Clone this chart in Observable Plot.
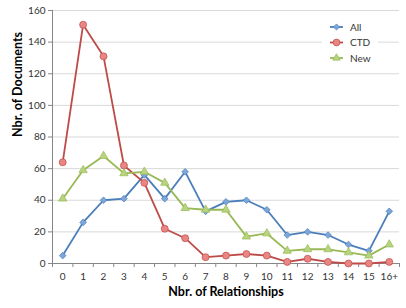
<!DOCTYPE html>
<html>
<head>
<meta charset="utf-8">
<script src="https://cdn.jsdelivr.net/npm/d3@7"></script>
<script src="https://cdn.jsdelivr.net/npm/@observablehq/plot@0.6"></script>
<style>
  html, body { margin: 0; padding: 0; background: #fff; }
  #wrap { position: relative; width: 406px; height: 308px; font-family: Lato, "Open Sans", sans-serif; }
  #legend { position: absolute; left: 322px; top: 18px; width: 56px; height: 48px; background: #fff; }
  #legend svg { display: block; }
</style>
</head>
<body>
<div id="wrap"><div id="legend"></div></div>
<script>
const categories = ["0","1","2","3","4","5","6","7","8","9","10","11","12","13","14","15","16+"];
const allValues = [5, 26, 40, 41, 56, 41, 58, 33, 39, 40, 34, 18, 20, 18, 12, 8, 33];
const ctdValues = [64, 151, 131, 62, 51, 22, 16, 4, 5, 6, 5, 1, 3, 1, 0, 0, 1];
const newValues = [41, 59, 68, 57, 58, 51, 35, 34, 34, 17, 19, 8, 9, 9, 7, 5, 12];
const seriesNames = ["All", "CTD", "New"];
const yTicks = [0, 20, 40, 60, 80, 100, 120, 140, 160];

const lineColors = {All: "#4a7ebb", CTD: "#be4b48", New: "#98b954"};
const fillColors = {All: "#7ea6d8", CTD: "#e98683", New: "#b8d480"};
const symbols = {All: "diamond2", CTD: "circle", New: "triangle"};
const sizes = {All: 3, CTD: 3.5, New: 3.1};

const series = [allValues, ctdValues, newValues];
const rows = [];
seriesNames.forEach((s, k) => series[k].forEach((v, i) => rows.push({series: s, i, v})));

const idx = categories.map((_, i) => i);
const bounds = d3.range(categories.length + 1).map(i => i - 0.5);

const marks = [
  Plot.gridY(yTicks.slice(1), {stroke: "#d9d9d9", strokeOpacity: 1, strokeWidth: 1}),
  Plot.ruleY([0], {stroke: "#868686"}),
  Plot.ruleX([-0.5], {stroke: "#868686"}),
  Plot.axisY({ticks: yTicks, tickSize: 4, tickPadding: 3, stroke: "#868686", fill: "#333", fontSize: 10, label: null}),
  Plot.axisX({ticks: bounds, tickSize: 4, stroke: "#868686", tickFormat: () => "", label: null}),
  Plot.axisX({ticks: idx, tickSize: 0, tickPadding: 9, fill: "#333", fontSize: 10, tickFormat: i => categories[i], label: null}),
];
for (const s of seriesNames) {
  const d = rows.filter(r => r.series === s);
  marks.push(Plot.line(d, {x: "i", y: "v", stroke: lineColors[s], strokeWidth: 1.8}));
}
for (const s of seriesNames) {
  const d = rows.filter(r => r.series === s);
  marks.push(Plot.dot(d, {x: "i", y: "v", symbol: () => symbols[s], r: sizes[s], fill: fillColors[s], stroke: lineColors[s], strokeWidth: 0.7}));
}
marks.push(Plot.text(["Nbr. of Relationships"], {frameAnchor: "bottom", dy: 32, fontWeight: "bold", fontSize: 12.5, fill: "#000"}));
marks.push(Plot.text(["Nbr. of Documents"], {frameAnchor: "left", dx: -35, rotate: -90, fontWeight: "bold", fontSize: 12.5, fill: "#000"}));

const chart = Plot.plot({
  width: 406,
  height: 308,
  marginLeft: 52,
  marginRight: 7,
  marginTop: 10,
  marginBottom: 45,
  style: {fontFamily: "Lato, 'Open Sans', sans-serif", background: "#fff", overflow: "visible"},
  x: {type: "linear", domain: [-0.5, categories.length - 0.5], axis: null},
  y: {domain: [0, 160], axis: null},
  symbol: {type: "identity"},
  marks
});
document.getElementById("wrap").prepend(chart);

// legend
const legend = d3.select("#legend").append("svg").attr("width", 56).attr("height", 48);
const symGen = {All: d3.symbolDiamond2, CTD: d3.symbolCircle, New: d3.symbolTriangle};
seriesNames.forEach((s, k) => {
  const y = 9 + k * 15.5;
  const g = legend.append("g").attr("transform", `translate(0,${y})`);
  g.append("line").attr("x1", 8).attr("x2", 21).attr("y1", 0).attr("y2", 0).attr("stroke", lineColors[s]).attr("stroke-width", 1.8);
  g.append("path").attr("transform", "translate(14.5,0)").attr("d", d3.symbol(symGen[s], s === "CTD" ? 36 : 24)()).attr("fill", fillColors[s]).attr("stroke", lineColors[s]).attr("stroke-width", 0.7);
  g.append("text").attr("x", 28).attr("y", 0).attr("dy", "0.35em").attr("font-size", 10).attr("fill", "#333").attr("font-family", "Lato, 'Open Sans', sans-serif").text(s);
});
</script>
</body>
</html>
